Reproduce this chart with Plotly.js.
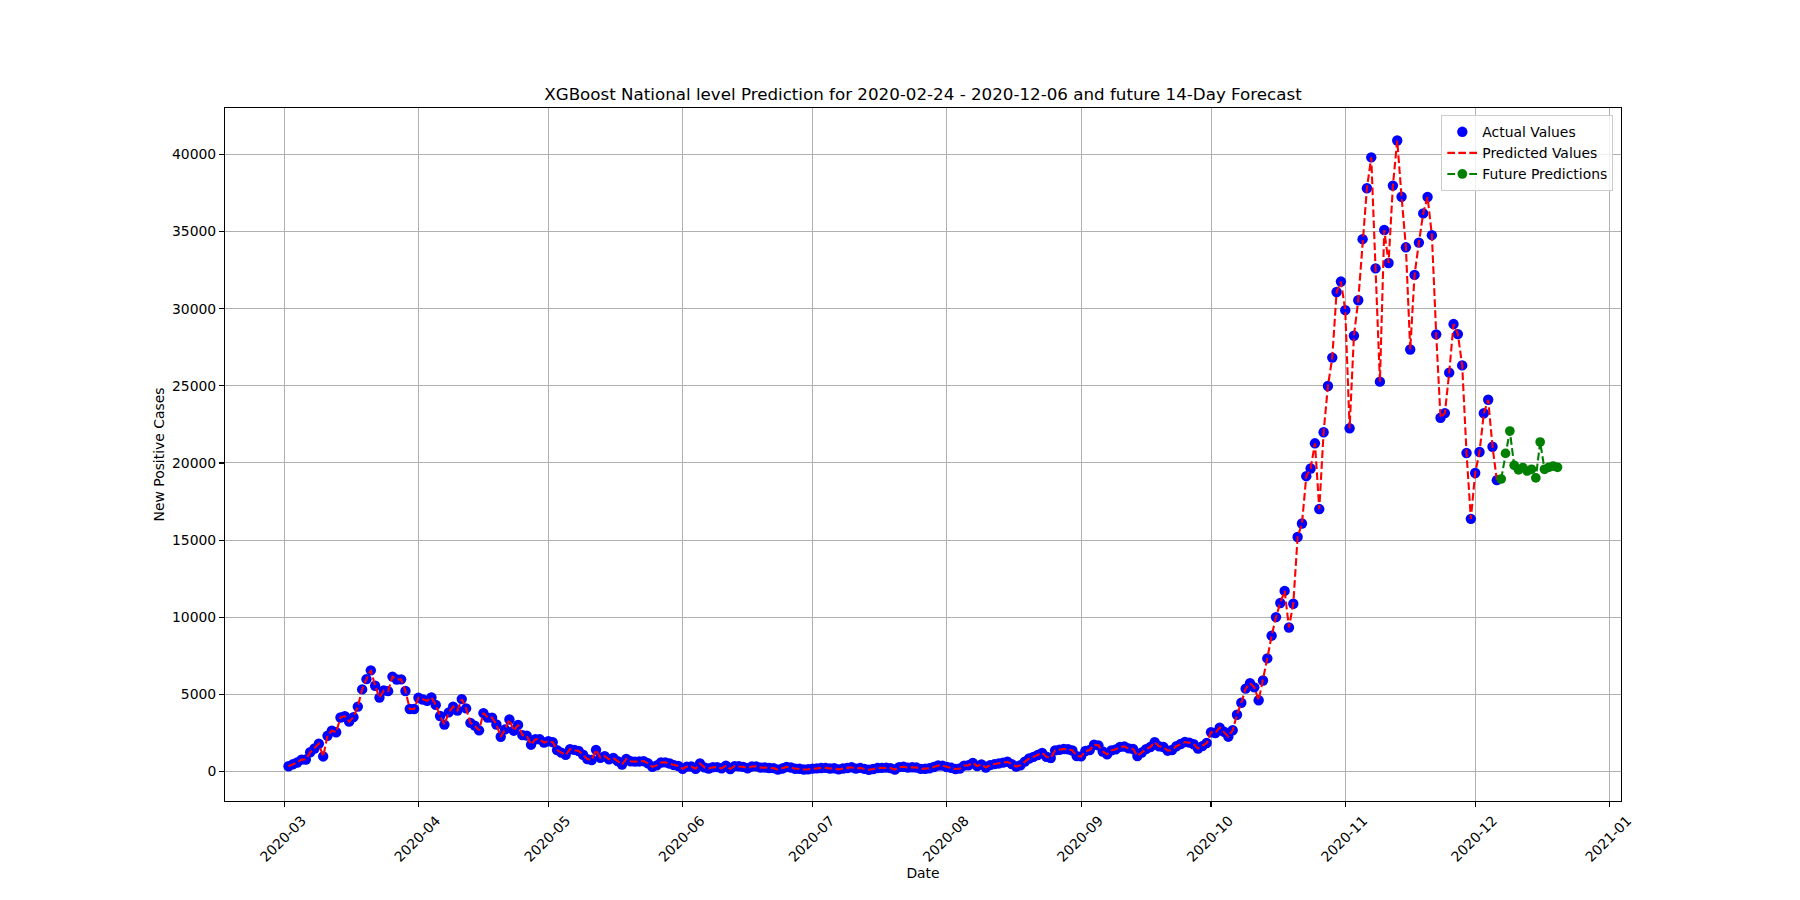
<!DOCTYPE html>
<html>
<head>
<meta charset="utf-8">
<script src="https://cdn.plot.ly/plotly-3.0.1.min.js"></script>
<style>
  html, body { margin: 0; padding: 0; background: #ffffff; }
  #chart { width: 1800px; height: 900px; }
</style>
</head>
<body>
<div id="chart"></div>
<script>
// first day of the actual / predicted series and of the 14-day forecast
var actualStart = '2020-03-02';
var futureStart = '2020-12-07';

// daily new positive cases, 2020-03-02 ... 2020-12-06 (one row per month)
var actualValues = [
    342, 466, 587, 769, 778, 1247, 1492, 1797, 977, 2313, 2651, 2547, 3497, 3590, 3233, 3526, 4207, 5322, 5986, 6557, 5560, 4789, 5249, 5210, 6153, 5959, 5974, 5217, 4050, 4053,
    4782, 4668, 4585, 4805, 4316, 3599, 3039, 3836, 4204, 3951, 4694, 4092, 3153, 2972, 2667, 3786, 3493, 3491, 3047, 2256, 2729, 3370, 2646, 3021, 2357, 2324, 1739, 2091, 2086, 1872,
    1965, 1900, 1389, 1221, 1075, 1444, 1401, 1327, 1083, 802, 744, 1402, 888, 992, 789, 875, 675, 451, 813, 665, 642, 652, 669, 531, 300, 397, 584, 593, 516, 416, 355,
    178, 318, 321, 177, 518, 270, 197, 280, 283, 202, 379, 163, 346, 338, 301, 210, 328, 333, 251, 262, 224, 218, 122, 190, 296, 259, 175, 174, 126, 142,
    187, 201, 223, 235, 192, 208, 138, 193, 229, 276, 188, 234, 169, 114, 162, 230, 233, 249, 219, 129, 282, 306, 252, 275, 255, 170, 181, 212, 289, 386, 379,
    295, 239, 159, 190, 384, 402, 552, 347, 463, 259, 412, 481, 523, 574, 629, 479, 320, 403, 642, 845, 947, 1071, 1210, 953, 878, 1367, 1411, 1462, 1444, 1365, 996,
    978, 1326, 1397, 1733, 1695, 1297, 1108, 1370, 1434, 1597, 1616, 1501, 1458, 1008, 1229, 1452, 1585, 1907, 1638, 1587, 1350, 1392, 1640, 1786, 1912, 1869, 1766, 1494, 1648, 1851,
    2548, 2499, 2844, 2578, 2257, 2677, 3678, 4458, 5372, 5724, 5456, 4619, 5901, 7332, 8804, 10010, 10925, 11705, 9338, 10874, 15199, 16079, 19143, 19644, 21273, 17012, 21994, 24991, 26831, 31084, 31758,
    29907, 22253, 28244, 30550, 34505, 37809, 39811, 32616, 25271, 35098, 32961, 37978, 40902, 37255, 33979, 27354, 32191, 34283, 36176, 37242, 34767, 28337, 22930, 23232, 25853, 29003, 28352, 26323, 20648, 16377,
    19350, 20709, 23225, 24099, 21052, 18887
];

// the model's in-sample predictions sit on top of the actual values
var predictedValues = [
    342, 466, 587, 769, 778, 1247, 1492, 1797, 977, 2313, 2651, 2547, 3497, 3590, 3233, 3526, 4207, 5322, 5986, 6557, 5560, 4789, 5249, 5210, 6153, 5959, 5974, 5217, 4050, 4053,
    4782, 4668, 4585, 4805, 4316, 3599, 3039, 3836, 4204, 3951, 4694, 4092, 3153, 2972, 2667, 3786, 3493, 3491, 3047, 2256, 2729, 3370, 2646, 3021, 2357, 2324, 1739, 2091, 2086, 1872,
    1965, 1900, 1389, 1221, 1075, 1444, 1401, 1327, 1083, 802, 744, 1402, 888, 992, 789, 875, 675, 451, 813, 665, 642, 652, 669, 531, 300, 397, 584, 593, 516, 416, 355,
    178, 318, 321, 177, 518, 270, 197, 280, 283, 202, 379, 163, 346, 338, 301, 210, 328, 333, 251, 262, 224, 218, 122, 190, 296, 259, 175, 174, 126, 142,
    187, 201, 223, 235, 192, 208, 138, 193, 229, 276, 188, 234, 169, 114, 162, 230, 233, 249, 219, 129, 282, 306, 252, 275, 255, 170, 181, 212, 289, 386, 379,
    295, 239, 159, 190, 384, 402, 552, 347, 463, 259, 412, 481, 523, 574, 629, 479, 320, 403, 642, 845, 947, 1071, 1210, 953, 878, 1367, 1411, 1462, 1444, 1365, 996,
    978, 1326, 1397, 1733, 1695, 1297, 1108, 1370, 1434, 1597, 1616, 1501, 1458, 1008, 1229, 1452, 1585, 1907, 1638, 1587, 1350, 1392, 1640, 1786, 1912, 1869, 1766, 1494, 1648, 1851,
    2548, 2499, 2844, 2578, 2257, 2677, 3678, 4458, 5372, 5724, 5456, 4619, 5901, 7332, 8804, 10010, 10925, 11705, 9338, 10874, 15199, 16079, 19143, 19644, 21273, 17012, 21994, 24991, 26831, 31084, 31758,
    29907, 22253, 28244, 30550, 34505, 37809, 39811, 32616, 25271, 35098, 32961, 37978, 40902, 37255, 33979, 27354, 32191, 34283, 36176, 37242, 34767, 28337, 22930, 23232, 25853, 29003, 28352, 26323, 20648, 16377,
    19350, 20709, 23225, 24099, 21052, 18887
];

// 14-day forecast, 2020-12-07 ... 2020-12-20
var futureValues = [18960, 20620, 22070, 19850, 19550, 19700, 19480, 19590, 19030, 21360, 19590, 19720, 19800, 19720];

var yTicks = [0, 5000, 10000, 15000, 20000, 25000, 30000, 35000, 40000];

// consecutive daily dates starting at start
function dayRange(start, n)
{
    var out = [];
    var d = new Date(start + 'T00:00:00Z');
    for(var i = 0; i < n; i++)
    {
        out.push(d.toISOString().slice(0, 10));
        d.setUTCDate(d.getUTCDate() + 1);
    }
    return out;
}

var actualDates = dayRange(actualStart, actualValues.length);
var futureDates = dayRange(futureStart, futureValues.length);

var font = 'DejaVu Sans, Liberation Sans, sans-serif';
var small = 13.9;

var plotlyData = [
    {
        x: actualDates,
        y: actualValues,
        type: 'scatter',
        mode: 'markers',
        name: 'Actual Values',
        marker: {color: '#0000ff', size: 10.4}
    },
    {
        x: actualDates,
        y: predictedValues,
        type: 'scatter',
        mode: 'lines',
        name: 'Predicted Values',
        line: {color: '#ff0000', width: 2.1, dash: '7.7px,3.3px'}
    },
    {
        x: futureDates,
        y: futureValues,
        type: 'scatter',
        mode: 'lines+markers',
        name: 'Future Predictions',
        line: {color: '#008000', width: 2.1, dash: '7.7px,3.3px'},
        marker: {color: '#008000', size: 9.7}
    }
];

var plotlyLayout = {
    width: 1800,
    height: 900,
    margin: {l: 225, r: 179, t: 108, b: 99, pad: 0},
    paper_bgcolor: '#ffffff',
    plot_bgcolor: '#ffffff',
    font: {family: font, size: small, color: '#000000'},
    showlegend: true,
    title: {
        text: 'XGBoost National level Prediction for 2020-02-24 - 2020-12-06 and future 14-Day Forecast',
        font: {family: font, size: 16.7, color: '#000000'},
        x: 0.5,
        xref: 'paper',
        xanchor: 'center',
        y: 1 - 94 / 900,
        yref: 'container',
        yanchor: 'middle'
    },
    xaxis: {
        type: 'date',
        range: ['2020-02-16 08:00', '2021-01-03 16:00'],
        tick0: '2020-03-01',
        dtick: 'M1',
        tickformat: '%Y-%m',
        tickangle: -45,
        ticklabelshift: 18,
        ticks: 'outside',
        ticklen: 4.9,
        tickwidth: 1.1,
        tickcolor: '#000000',
        showline: true,
        linecolor: '#000000',
        linewidth: 1.1,
        mirror: true,
        showgrid: true,
        gridcolor: '#b0b0b0',
        gridwidth: 1,
        zeroline: false,
        tickfont: {family: font, size: small, color: '#000000'},
        title: {text: 'Date', font: {family: font, size: small, color: '#000000'}, standoff: 2}
    },
    yaxis: {
        range: [-1912, 43009],
        tickvals: yTicks,
        tickformat: 'd',
        ticks: 'outside',
        ticklen: 4.9,
        tickwidth: 1.1,
        tickcolor: '#000000',
        showline: true,
        linecolor: '#000000',
        linewidth: 1.1,
        mirror: true,
        showgrid: true,
        gridcolor: '#b0b0b0',
        gridwidth: 1,
        zeroline: false,
        tickfont: {family: font, size: small, color: '#000000'},
        title: {text: 'New Positive Cases', font: {family: font, size: small, color: '#000000'}, standoff: 4}
    },
    legend: {
        x: 0.9945,
        xanchor: 'right',
        y: 0.9895,
        yanchor: 'top',
        bgcolor: 'rgba(255,255,255,0.8)',
        bordercolor: '#cccccc',
        borderwidth: 1,
        font: {family: font, size: small, color: '#000000'},
        tracegroupgap: 0,
        itemwidth: 30
    }
};

var plotlyConfig = {
    displayModeBar: false,
    responsive: false,
    staticPlot: true
};

Plotly.newPlot('chart', plotlyData, plotlyLayout, plotlyConfig);
</script>
</body>
</html>
